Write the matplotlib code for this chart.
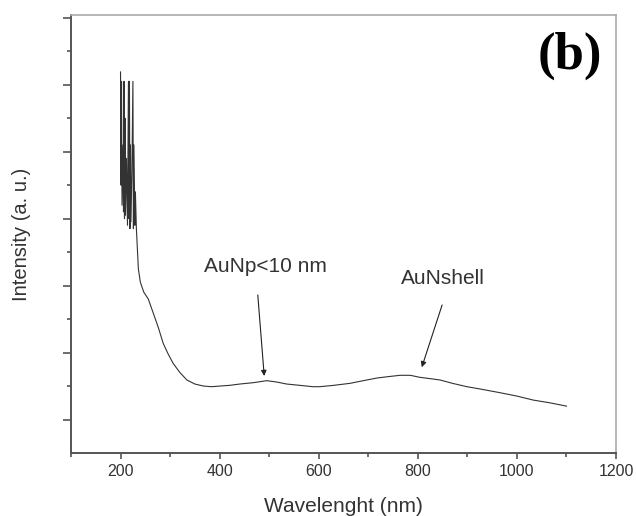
import matplotlib.pyplot as plt
from matplotlib.ticker import MultipleLocator

# wavelength (nm) and intensity (a. u.)
spike_nm = [200, 201, 202, 203, 205, 206, 207, 208, 209, 210, 212, 214, 216,
            217, 218, 219, 220, 221, 223, 225, 226, 227, 229, 230, 232, 234]
spike_int = [5.69, 4.0, 5.55, 3.7, 4.6, 3.6, 5.55, 3.5, 5.0, 3.55, 4.4, 3.4,
             5.55, 3.5, 5.55, 3.35, 4.6, 3.45, 4.2, 5.55, 3.35, 4.6, 3.4, 3.9,
             3.35, 3.05]
smooth_nm = [236, 240, 247, 256, 266, 276, 286, 296, 306, 320, 334, 350, 367,
             384, 401, 420, 441, 468, 495, 515, 535, 562, 588, 602, 630, 663,
             690, 718, 740, 764, 785, 804, 825, 845, 870, 899, 930, 966, 1000,
             1033, 1066, 1100]
smooth_int = [2.75, 2.55, 2.4, 2.3, 2.09, 1.88, 1.64, 1.48, 1.34, 1.2, 1.09,
              1.03, 1.0, 0.99, 1.0, 1.01, 1.03, 1.05, 1.08, 1.06, 1.03, 1.01,
              0.99, 0.99, 1.01, 1.04, 1.08, 1.12, 1.14, 1.16, 1.16, 1.13, 1.11,
              1.09, 1.04, 0.99, 0.95, 0.9, 0.85, 0.79, 0.75, 0.70]

wl = spike_nm + smooth_nm
inten = spike_int + smooth_int

plt.rcParams['font.family'] = ['Liberation Sans', 'DejaVu Sans']

fig = plt.figure(figsize=(6.36, 5.16), dpi=100)
ax = fig.add_axes([0.1116, 0.1221, 0.857, 0.8488])

ax.plot(wl, inten, color='#333333', lw=0.8)

ax.set_xlim(100, 1200)
ax.set_ylim(0, 6.54)
ax.xaxis.set_major_locator(MultipleLocator(200))
ax.xaxis.set_minor_locator(MultipleLocator(100))
ax.set_yticks([0.5, 1.5, 2.5, 3.5, 4.5, 5.5, 6.5])
ax.set_yticks([1, 2, 3, 4, 5, 6], minor=True)
ax.set_yticklabels([])

for s in ['left', 'bottom']:
    ax.spines[s].set_color('#555555')
    ax.spines[s].set_linewidth(1.4)
for s in ['top', 'right']:
    ax.spines[s].set_color('#aaaaaa')
    ax.spines[s].set_linewidth(1.2)

ax.tick_params(which='major', direction='out', length=5.5, width=1.2,
               color='#555555', labelsize=11.5, labelcolor='#333333')
ax.tick_params(which='minor', direction='out', length=3, width=1.2,
               color='#555555')
ax.tick_params(axis='x', which='major', length=4.5)

ax.set_xlabel('Wavelenght (nm)', fontsize=15, color='#333333', labelpad=13)
ax.set_ylabel('Intensity (a. u.)', fontsize=14.5, color='#333333', labelpad=20)

arrow = dict(arrowstyle='-|>', color='#222222', lw=0.8,
             mutation_scale=8, shrinkA=0, shrinkB=0)
ax.text(493, 2.79, 'AuNp<10 nm', ha='center', va='center', fontsize=15,
        color='#333333')
ax.annotate('', xy=(490, 1.15), xytext=(477, 2.36), arrowprops=arrow)
ax.text(851, 2.61, 'AuNshell', ha='center', va='center', fontsize=15,
        color='#333333')
ax.annotate('', xy=(808, 1.28), xytext=(849, 2.21), arrowprops=arrow)

ax.text(0.916, 0.906, '(b)', transform=ax.transAxes, ha='center', va='center',
        fontsize=38, fontweight='bold', family=['Liberation Serif', 'DejaVu Serif'])

fig.savefig('out.png', dpi=100)
